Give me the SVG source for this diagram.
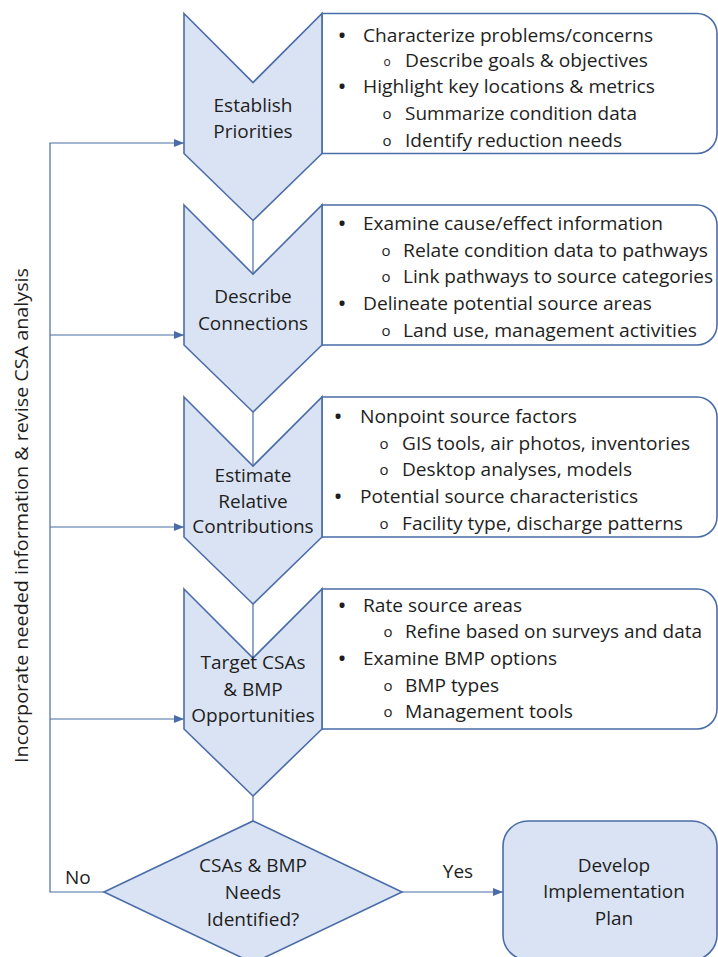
<svg xmlns="http://www.w3.org/2000/svg" width="718" height="957" viewBox="0 0 718 957">
<style>
.shape{fill:#DAE3F3;stroke:#4A6CA8;stroke-width:1.6;stroke-linejoin:miter}
.box{fill:#FFFFFF;stroke:#4A6CA8;stroke-width:1.6}
.line{fill:none;stroke:#4A6CA8;stroke-width:1.2}
text{font-family:"Open Sans","Noto Sans","Liberation Sans",sans-serif;font-size:19px;fill:#1E1E1E}
.c{text-anchor:middle}
.b{font-size:24px;text-anchor:middle}
.o{font-size:15px;text-anchor:middle}
</style>
<defs>
<marker id="arr" markerUnits="userSpaceOnUse" markerWidth="10" markerHeight="8" refX="10" refY="4" orient="auto">
<path d="M0,0 L10,4 L0,8 z" fill="#4A6CA8"/>
</marker>
</defs>
<rect width="718" height="957" fill="#FFFFFF"/>

<g id="connectors">
<line class="line" x1="253" y1="220" x2="253" y2="274"/>
<line class="line" x1="253" y1="412" x2="253" y2="466"/>
<line class="line" x1="253" y1="604" x2="253" y2="658"/>
<line class="line" x1="253" y1="796" x2="253" y2="821"/>
<line class="line" x1="402" y1="892" x2="503" y2="892" marker-end="url(#arr)"/>
<polyline class="line" points="104,892 50,892 50,143 184,143" marker-end="url(#arr)"/>
<line class="line" x1="50" y1="335" x2="184" y2="335" marker-end="url(#arr)"/>
<line class="line" x1="50" y1="527" x2="184" y2="527" marker-end="url(#arr)"/>
<line class="line" x1="50" y1="719" x2="184" y2="719" marker-end="url(#arr)"/>
<text x="65" y="884">No</text>
<text class="c" x="458" y="878">Yes</text>
<text transform="translate(28,515.5) rotate(-90)" class="c" textLength="495" lengthAdjust="spacingAndGlyphs">Incorporate needed information &amp; revise CSA analysis</text>
</g>

<g id="step1">
<path class="box" d="M322,13.5 H697 A20,20 0 0 1 717,33.5 V133.5 A20,20 0 0 1 697,153.5 H322 Z"/>
<path class="shape" d="M184,13.5 L253,82.5 L322,13.5 L322,153.5 L253,220.5 L184,153.5 Z"/>
<text class="c" x="253" y="112">Establish</text>
<text class="c" x="253" y="138">Priorities</text>
<text class="b" x="342" y="44">•</text>
<text x="363" y="42" textLength="290" lengthAdjust="spacingAndGlyphs">Characterize problems/concerns</text>
<text class="o" x="387" y="66" style="font-size:12px">o</text>
<text x="405" y="67" textLength="243" lengthAdjust="spacingAndGlyphs">Describe goals &amp; objectives</text>
<text class="b" x="342" y="95">•</text>
<text x="363" y="93" textLength="292" lengthAdjust="spacingAndGlyphs">Highlight key locations &amp; metrics</text>
<text class="o" x="387" y="119">o</text>
<text x="405" y="120" textLength="232" lengthAdjust="spacingAndGlyphs">Summarize condition data</text>
<text class="o" x="387" y="146">o</text>
<text x="405" y="147" textLength="217" lengthAdjust="spacingAndGlyphs">Identify reduction needs</text>
</g>

<g id="step2">
<path class="box" d="M322,205 H697 A20,20 0 0 1 717,225 V325 A20,20 0 0 1 697,345 H322 Z"/>
<path class="shape" d="M184,205 L253,274 L322,205 L322,345 L253,412 L184,345 Z"/>
<text class="c" x="253" y="303">Describe</text>
<text class="c" x="253" y="330">Connections</text>
<text class="b" x="342" y="232">•</text>
<text x="363" y="230" textLength="300" lengthAdjust="spacingAndGlyphs">Examine cause/effect information</text>
<text class="o" x="386" y="256">o</text>
<text x="403" y="257" textLength="305" lengthAdjust="spacingAndGlyphs">Relate condition data to pathways</text>
<text class="o" x="386" y="282">o</text>
<text x="403" y="283" textLength="310" lengthAdjust="spacingAndGlyphs">Link pathways to source categories</text>
<text class="b" x="342" y="312">•</text>
<text x="363" y="310" textLength="289" lengthAdjust="spacingAndGlyphs">Delineate potential source areas</text>
<text class="o" x="386" y="336">o</text>
<text x="403" y="337" textLength="294" lengthAdjust="spacingAndGlyphs">Land use, management activities</text>
</g>

<g id="step3">
<path class="box" d="M322,397 H697 A20,20 0 0 1 717,417 V517 A20,20 0 0 1 697,537 H322 Z"/>
<path class="shape" d="M184,397 L253,466 L322,397 L322,537 L253,604 L184,537 Z"/>
<text class="c" x="253" y="482">Estimate</text>
<text class="c" x="253" y="508">Relative</text>
<text class="c" x="253" y="533">Contributions</text>
<text class="b" x="338" y="425">•</text>
<text x="360" y="423" textLength="217" lengthAdjust="spacingAndGlyphs">Nonpoint source factors</text>
<text class="o" x="384" y="449">o</text>
<text x="402" y="450" textLength="288" lengthAdjust="spacingAndGlyphs">GIS tools, air photos, inventories</text>
<text class="o" x="384" y="475">o</text>
<text x="402" y="476" textLength="230" lengthAdjust="spacingAndGlyphs">Desktop analyses, models</text>
<text class="b" x="338" y="505">•</text>
<text x="360" y="503" textLength="278" lengthAdjust="spacingAndGlyphs">Potential source characteristics</text>
<text class="o" x="384" y="529">o</text>
<text x="402" y="530" textLength="281" lengthAdjust="spacingAndGlyphs">Facility type, discharge patterns</text>
</g>

<g id="step4">
<path class="box" d="M322,589 H697 A20,20 0 0 1 717,609 V709 A20,20 0 0 1 697,729 H322 Z"/>
<path class="shape" d="M184,589 L253,658 L322,589 L322,729 L253,796 L184,729 Z"/>
<text class="c" x="253" y="669">Target CSAs</text>
<text class="c" x="253" y="696">&amp; BMP</text>
<text class="c" x="253" y="722">Opportunities</text>
<text class="b" x="342" y="614">•</text>
<text x="363" y="612" textLength="159" lengthAdjust="spacingAndGlyphs">Rate source areas</text>
<text class="o" x="388" y="637">o</text>
<text x="405" y="638" textLength="297" lengthAdjust="spacingAndGlyphs">Refine based on surveys and data</text>
<text class="b" x="342" y="667">•</text>
<text x="363" y="665" textLength="194" lengthAdjust="spacingAndGlyphs">Examine BMP options</text>
<text class="o" x="388" y="691">o</text>
<text x="405" y="692" textLength="94" lengthAdjust="spacingAndGlyphs">BMP types</text>
<text class="o" x="388" y="717">o</text>
<text x="405" y="718" textLength="168" lengthAdjust="spacingAndGlyphs">Management tools</text>
</g>

<g id="decision">
<path class="shape" d="M253,821 L402,892 L253,963 L104,892 Z"/>
<text class="c" x="253" y="872">CSAs &amp; BMP</text>
<text class="c" x="253" y="899">Needs</text>
<text class="c" x="253" y="926">Identified?</text>
</g>

<g id="develop">
<rect class="shape" x="503" y="821" width="214" height="139" rx="25" ry="25"/>
<text class="c" x="614" y="872">Develop</text>
<text class="c" x="614" y="898">Implementation</text>
<text class="c" x="614" y="925">Plan</text>
</g>
</svg>
